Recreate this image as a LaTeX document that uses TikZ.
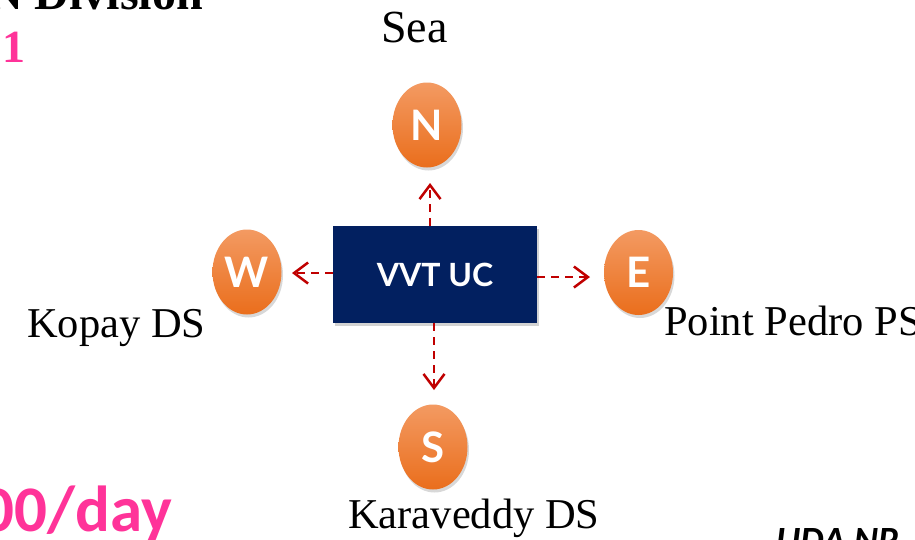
\documentclass[tikz,border=0pt]{standalone}
\usepackage{fontspec}
\setmainfont{Liberation Serif}
\newfontfamily\lato{Lato}
\newfontfamily\carl{Carlito}
\usetikzlibrary{arrows.meta,shadows,shapes.geometric}
\definecolor{navy}{HTML}{022060}
\definecolor{arrred}{HTML}{C00000}
\definecolor{pinkc}{HTML}{FF3399}
\definecolor{orgtop}{HTML}{F39A62}
\definecolor{orgbot}{HTML}{EA6E1C}
\begin{document}
\begin{tikzpicture}[x=1pt,y=-1pt,
  dirnode/.style={ellipse, minimum width=69pt, minimum height=85pt, inner sep=0pt,
    top color=orgtop, bottom color=orgbot, draw=none,
    drop shadow={opacity=0.3, shadow xshift=1.5pt, shadow yshift=-3pt},
    text=white, font=\lato\bfseries\fontsize{42}{42}\selectfont},
  ucbox/.style={rectangle, fill=navy, minimum width=204pt, minimum height=97pt, inner sep=0pt,
    drop shadow={opacity=0.35, shadow xshift=2pt, shadow yshift=-3pt},
    text=white, font=\lato\bfseries\fontsize{32}{32}\selectfont},
  lbl/.style={anchor=base west, inner sep=0pt, font=\fontsize{42.5}{42.5}\selectfont},
  arr/.style={draw=arrred, line width=2.5pt, dash pattern=on 8pt off 6pt,
    -{Straight Barb[length=14pt,width=21pt,line width=2.5pt]}}]
\clip (0,0) rectangle (915,539);
\useasboundingbox (0,0) rectangle (915,539);
\fill[white] (0,0) rectangle (915,539);
% side texts
\node[anchor=base east, inner sep=0pt, font=\bfseries\fontsize{48}{48}\selectfont] (title) at (203,9) {N Division};
\node[anchor=base west, inner sep=0pt, text=pinkc, font=\bfseries\fontsize{46}{46}\selectfont] (one) at (2,62) {1};
\node[anchor=base east, inner sep=0pt, text=pinkc, font=\carl\bfseries\fontsize{65}{65}\selectfont] (rate) at (172,531) {00/day};
\node[anchor=base west, inner sep=0pt, font=\carl\bfseries\itshape\fontsize{37}{37}\selectfont] (uda) at (776,552) {UDA NP};
% main diagram
\node[ucbox] (uc) at (435,274.5) {VVT UC};
\node[dirnode] (N) at (427,125) {N};
\node[dirnode] (W) at (247,272) {W};
\node[dirnode] (E) at (638.5,272.5) {E};
\node[dirnode] (S) at (433,447) {S};
\coordinate (tN) at (430,183);
\coordinate (tW) at (292,273);
\coordinate (tE) at (590,277);
\coordinate (tS) at (434,390);
\draw[arr] (tN |- uc.north) -- (tN);
\draw[arr] (tW -| uc.west) -- (tW);
\draw[arr] (tE -| uc.east) -- (tE);
\draw[arr] (tS |- uc.south) -- (tS);
% labels
\node[lbl, font=\fontsize{46}{46}\selectfont] (sea) at (381,42) {Sea};
\node[lbl] (kopay) at (27,337) {Kopay DS};
\node[lbl] (pp) at (664,335) {Point Pedro PS};
\node[lbl] (kara) at (348,528) {Karaveddy DS};
\end{tikzpicture}
\end{document}
